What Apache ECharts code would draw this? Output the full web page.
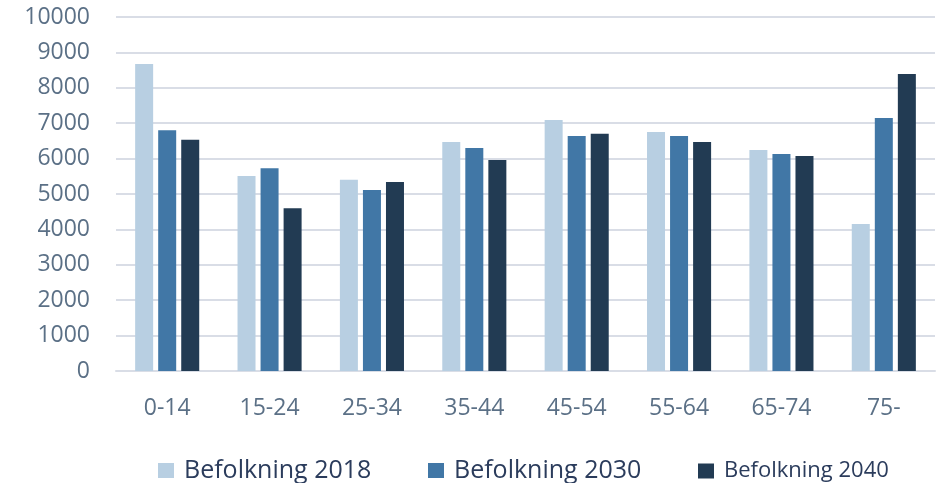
<!DOCTYPE html>
<html>
<head>
<meta charset="utf-8">
<script src="https://cdn.jsdelivr.net/npm/echarts@6/dist/echarts.min.js"></script>
<style>
html,body{margin:0;padding:0;background:#fff;}
#main{width:946px;height:483px;}
</style>
</head>
<body>
<div id="main"></div>
<script>
const categories = ['0-14','15-24','25-34','35-44','45-54','55-64','65-74','75-'];
const seriesNames = ['Befolkning 2018','Befolkning 2030','Befolkning 2040'];
const pop2018 = [8670, 5510, 5400, 6470, 7090, 6750, 6240, 4150];
const pop2030 = [6800, 5730, 5110, 6300, 6640, 6640, 6130, 7150];
const pop2040 = [6530, 4600, 5340, 5960, 6700, 6470, 6070, 8390];
const yTicks = [0,1000,2000,3000,4000,5000,6000,7000,8000,9000,10000];

const colors = ['#B8CFE2', '#4177A6', '#223B53'];
const chart = echarts.init(document.getElementById('main'));

function legendFor(i, left, fontSize, top) {
  return {
    show: true,
    data: [seriesNames[i]],
    left: left,
    top: top,
    icon: 'rect',
    itemWidth: 16,
    itemHeight: 15,
    textStyle: {
      fontFamily: 'Open Sans',
      fontSize: fontSize,
      color: '#2B3C5C',
      padding: [0, 0, 0, 5]
    }
  };
}

chart.setOption({
  animation: false,
  color: colors,
  grid: { left: 116, right: 11, top: 17, bottom: 112, containLabel: false },
  legend: [
    legendFor(0, 153, 25, 453),
    legendFor(1, 423, 25, 453),
    legendFor(2, 693, 22, 455)
  ],
  xAxis: {
    type: 'category',
    data: categories,
    axisLine: { show: true, lineStyle: { color: '#D9DDE6', width: 2 } },
    axisTick: { show: false },
    axisLabel: { color: '#5B7086', fontFamily: 'Open Sans', fontSize: 23, margin: 26 }
  },
  yAxis: {
    type: 'value',
    min: 0,
    max: yTicks[yTicks.length - 1],
    interval: 1000,
    axisLine: { show: false },
    axisTick: { show: false },
    splitLine: { lineStyle: { color: '#D9DDE6', width: 2 } },
    axisLabel: {
      color: '#5B7086', fontFamily: 'Open Sans', fontSize: 23, margin: 26,
      formatter: function (v) { return String(v); }
    }
  },
  series: [
    { name: seriesNames[0], type: 'bar', data: pop2018, barWidth: 18, barGap: '28%' },
    { name: seriesNames[1], type: 'bar', data: pop2030, barWidth: 18, barGap: '28%' },
    { name: seriesNames[2], type: 'bar', data: pop2040, barWidth: 18, barGap: '28%' }
  ]
});
</script>
</body>
</html>
